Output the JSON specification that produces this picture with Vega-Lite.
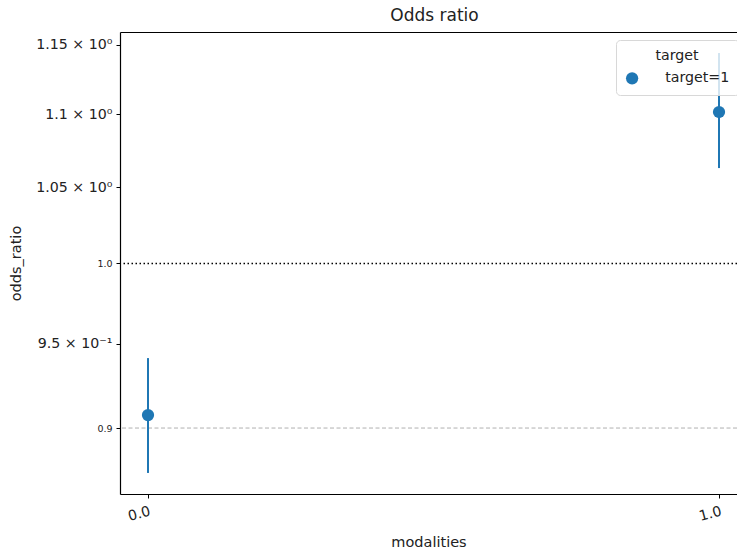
{
  "$schema": "https://vega.github.io/schema/vega-lite/v6.json",
  "width": 617,
  "height": 462,
  "autosize": {"type": "none"},
  "padding": {"left": 120, "top": 32, "right": 0, "bottom": 58},
  "view": {"stroke": null, "fill": null},
  "title": {"text": "Odds ratio", "font": "DejaVu Sans", "fontSize": 17, "fontWeight": "normal", "color": "#222", "offset": 7, "anchor": "middle", "frame": "group", "dx": 6},
  "config": {
    "view": {"stroke": null},
    "font": "DejaVu Sans",
    "axis": {"labelFont": "DejaVu Sans", "titleFont": "DejaVu Sans", "labelColor": "#222", "titleColor": "#222", "domainColor": "#000", "domainWidth": 1.2, "tickColor": "#000", "grid": false, "titleFontWeight": "normal", "titleFontSize": 14.5, "labelFontSize": 14.2, "tickSize": 4}
  },
  "data": {"values": [
    {"modality": 0.0, "odds_ratio": 0.9075, "lo": 0.8745, "hi": 0.9412, "target": "target=1"},
    {"modality": 1.0, "odds_ratio": 1.1017, "lo": 1.0629, "hi": 1.1441, "target": "target=1"}
  ]},
  "layer": [
    {
      "data": {"values": [{"ref": 1.0}]},
      "mark": {"type": "rule", "color": "#000", "strokeWidth": 1.5, "strokeDash": [1.5, 2.5]},
      "encoding": {"y": {"field": "ref", "type": "quantitative", "scale": {"type": "log", "domain": [0.8628, 1.1596], "nice": false}}}
    },
    {
      "data": {"values": [{"ref": 0.9}]},
      "mark": {"type": "rule", "color": "#b0b0b0", "strokeWidth": 1, "strokeDash": [4, 2.5]},
      "encoding": {"y": {"field": "ref", "type": "quantitative"}}
    },
    {
      "mark": {"type": "rule", "color": "#1f77b4", "strokeWidth": 2},
      "encoding": {
        "x": {"field": "modality", "type": "quantitative",
          "axis": {"orient": "top", "labels": false, "ticks": false, "title": null, "domain": true}},
        "y": {"field": "lo", "type": "quantitative"},
        "y2": {"field": "hi"}
      }
    },
    {
      "mark": {"type": "point", "filled": true, "opacity": 1, "shape": "circle", "size": 150},
      "encoding": {
        "x": {"field": "modality", "type": "quantitative", "title": "modalities",
          "scale": {"domain": [-0.04904, 1.0315], "nice": false, "zero": false},
          "axis": {"orient": "bottom", "values": [0, 1], "format": ".1f", "labelAngle": -15, "labelPadding": 6, "titlePadding": 12}},
        "y": {"field": "odds_ratio", "type": "quantitative", "title": "odds_ratio",
          "scale": {"type": "log", "domain": [0.8628, 1.1596], "nice": false},
          "axis": {"values": [0.9, 0.95, 1.0, 1.05, 1.1, 1.15],
            "labelExpr": "abs(datum.value-1.15)<0.001 ? '1.15 × 10⁰' : abs(datum.value-1.1)<0.001 ? '1.1 × 10⁰' : abs(datum.value-1.05)<0.001 ? '1.05 × 10⁰' : abs(datum.value-1)<0.001 ? '1.0' : abs(datum.value-0.95)<0.001 ? '9.5 × 10⁻¹' : '0.9'",
            "labelFontSize": {"condition": {"test": "abs(datum.value-1)<0.001 || abs(datum.value-0.9)<0.001", "value": 9.5}, "value": 14.2},
            "labelPadding": 4, "titlePadding": 12}},
        "color": {"field": "target", "type": "nominal", "scale": {"range": ["#1f77b4"]},
          "legend": {"title": "target", "orient": "none", "legendX": 496, "legendY": 8, "direction": "vertical",
            "titleFontSize": 14.2, "titleFontWeight": "normal", "titleFont": "DejaVu Sans", "titleColor": "#222", "titleAnchor": "middle",
            "labelFontSize": 14.2, "labelFont": "DejaVu Sans", "labelColor": "#222", "labelOffset": 26,
            "symbolSize": 150, "symbolType": "circle",
            "fillColor": "rgba(255,255,255,0.8)", "strokeColor": "#d8d8d8", "cornerRadius": 4, "padding": 9, "titlePadding": 8}}
      }
    }
  ]
}
